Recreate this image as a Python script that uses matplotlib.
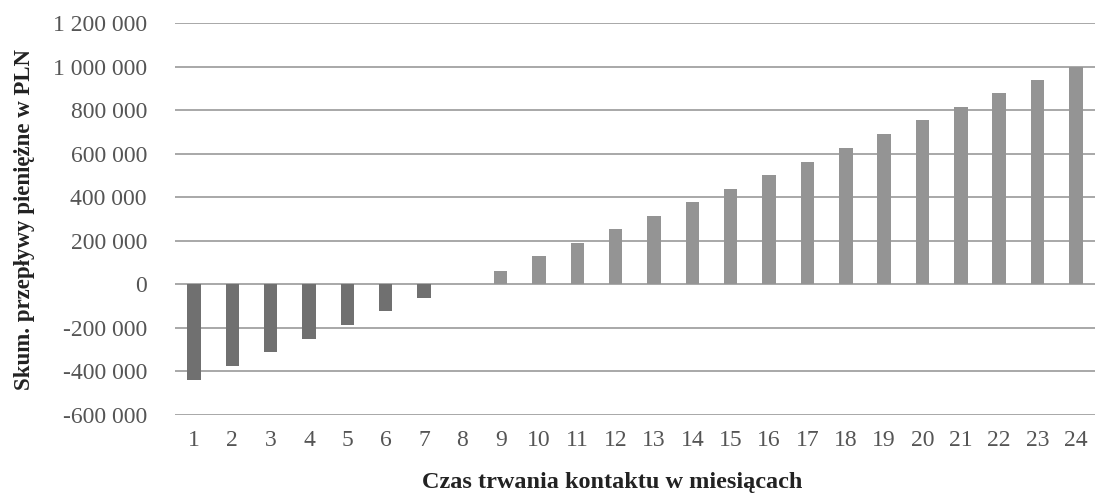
import matplotlib.pyplot as plt
from matplotlib.ticker import FuncFormatter, MultipleLocator

# Skumulowane przepływy pieniężne w kolejnych miesiącach
miesiace = list(range(1, 25))
przeplywy = [-437000, -374000, -311000, -250000, -187000, -123000, -63000, 0,
             63000, 128000, 190000, 253000, 316000, 378000, 438000, 500000,
             563000, 626000, 690000, 753000, 815000, 877000, 938000, 1000000]

plt.rcParams['font.family'] = ['Liberation Serif', 'DejaVu Serif']

fig = plt.figure(figsize=(10.99, 4.96), dpi=100)
ax = fig.add_axes([0.159, 0.1633, 0.8374, 0.7903])

kolory = ['#707070' if v < 0 else '#949494' for v in przeplywy]
ax.bar(range(len(miesiace)), przeplywy, width=0.35, color=kolory, zorder=2)

ax.set_xlim(-0.5, len(miesiace) - 0.5)
ax.set_ylim(-600000, 1200000)
ax.yaxis.set_major_locator(MultipleLocator(200000))
ax.yaxis.set_major_formatter(
    FuncFormatter(lambda v, p: f"{int(v):,}".replace(',', ' ')))
ax.set_xticks(range(len(miesiace)))
ax.set_xticklabels([str(m) for m in miesiace])

ax.grid(axis='y', color='#a8a8a8', linewidth=1.4, zorder=1)
for s in ax.spines.values():
    s.set_visible(False)
ax.tick_params(axis='both', length=0, labelsize=17, colors='#555555')
ax.tick_params(axis='x', pad=11)
ax.tick_params(axis='y', pad=20)

ax.set_xlabel("Czas trwania kontaktu w miesiącach", fontsize=17.5,
              fontweight='bold', color='#222222')
ax.xaxis.set_label_coords(0.475, -0.145)
ax.set_ylabel("Skum. przepływy pieniężne w PLN", fontsize=16.5,
              fontweight='bold', color='#222222')
ax.yaxis.set_label_coords(-0.152, 0.5)

fig.savefig("out.png", dpi=100, facecolor='white')
